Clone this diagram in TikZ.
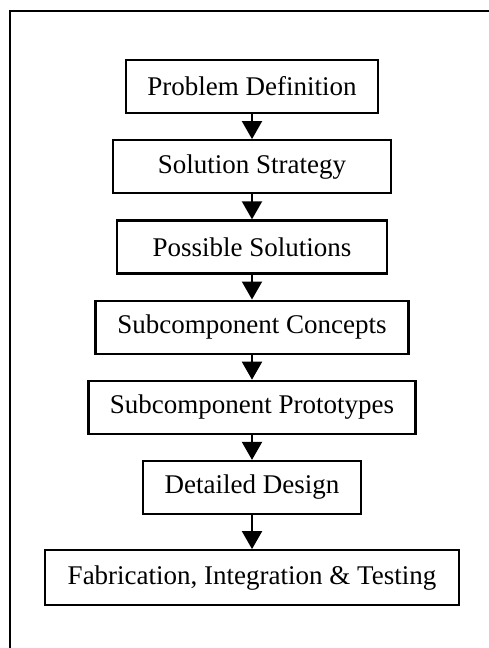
\documentclass[tikz,border=0pt]{standalone}
\usepackage{fontspec}
\setmainfont{Liberation Serif}
\usetikzlibrary{arrows.meta,positioning}

\begin{document}
\begin{tikzpicture}[
  x=1pt, y=-1pt,
  font=\fontsize{27}{30}\selectfont,
  node distance=25pt,
  stage/.style={draw, line width=2.2pt, minimum height=53pt, inner sep=0pt, fill=white},
  arrow/.style={-{Triangle[length=18pt,width=20pt]}, line width=2pt}
]
\useasboundingbox (0,0) rectangle (489,648);

% frame, cut off at right and bottom
\draw[line width=2pt] (10,648) -- (10,11) -- (489,11);

\node[stage, minimum width=252pt] (problem) at (252,86.5) {Problem Definition};
\node[stage, minimum width=278pt, below=of problem] (strategy) {Solution Strategy};
\node[stage, minimum width=270pt, below=of strategy] (solutions) {Possible Solutions};
\node[stage, minimum width=313pt, below=of solutions] (concepts) {Subcomponent Concepts};
\node[stage, minimum width=327pt, below=of concepts] (prototypes) {Subcomponent Prototypes};
\node[stage, minimum width=218pt, below=of prototypes] (detailed) {Detailed Design};
\node[stage, minimum width=414pt, minimum height=55pt, below=34pt of detailed] (fabrication) {Fabrication, Integration \& Testing};

\draw[arrow] (problem) -- (strategy);
\draw[arrow] (strategy) -- (solutions);
\draw[arrow] (solutions) -- (concepts);
\draw[arrow] (concepts) -- (prototypes);
\draw[arrow] (prototypes) -- (detailed);
\draw[arrow] (detailed) -- (fabrication);

\end{tikzpicture}
\end{document}
